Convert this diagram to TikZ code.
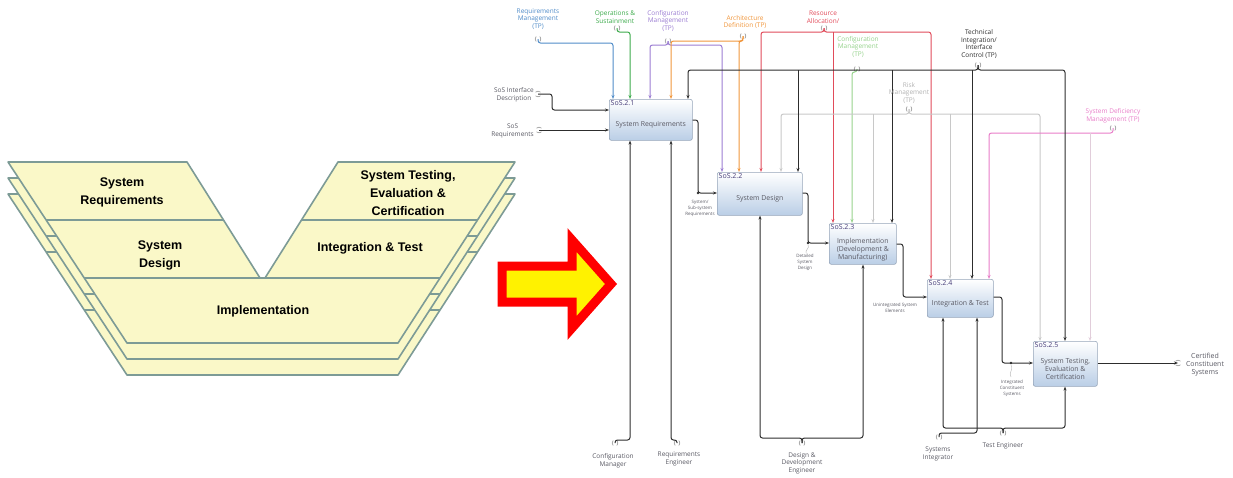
\documentclass[tikz,border=0pt]{standalone}
\usepackage{fontspec}
\setmainfont{Liberation Sans}
\newfontfamily\idef{Open Sans}
\usetikzlibrary{arrows.meta}
\definecolor{vfill}{RGB}{250,248,200}
\definecolor{vedge}{RGB}{125,155,150}
\definecolor{boxblue}{RGB}{186,206,230}
\definecolor{boxedge}{RGB}{150,165,185}
\definecolor{idblue}{RGB}{70,60,120}
\definecolor{txtgray}{RGB}{90,90,100}
\definecolor{lnk}{RGB}{45,45,45}
\definecolor{cblue}{RGB}{80,140,200}
\definecolor{cgreen}{RGB}{60,170,75}
\definecolor{cpurple}{RGB}{155,125,210}
\definecolor{corange}{RGB}{240,150,60}
\definecolor{cred}{RGB}{225,75,90}
\definecolor{clgreen}{RGB}{150,210,140}
\definecolor{cgray}{RGB}{200,200,200}
\definecolor{cpink}{RGB}{232,125,200}
\definecolor{cpale}{RGB}{225,205,218}
\begin{document}
\begin{tikzpicture}[x=1pt,y=-1pt,>={Stealth[length=4pt,width=3pt]},
  layer/.style={fill=vfill,draw=vedge,line width=1.6pt,line join=round},
  vtext/.style={font=\fontsize{12.5}{18}\selectfont\bfseries,align=center},
  sosbox/.style={draw=boxedge,line width=0.6pt,rounded corners=2pt,top color=white,bottom color=boxblue,anchor=north west},
  boxid/.style={font=\idef\fontsize{7}{7}\selectfont,text=idblue,anchor=north west,inner sep=1.5pt},
  boxtxt/.style={font=\idef\fontsize{6.9}{8}\selectfont,text=txtgray,align=center},
  lbl/.style={font=\idef\fontsize{6.5}{7.6}\selectfont,text=txtgray,align=center,inner sep=0pt},
  tinylbl/.style={font=\idef\fontsize{4.5}{6}\selectfont,text=txtgray,align=center,inner sep=0pt},
  link/.style={->,line width=1pt,rounded corners=2.5pt,draw=lnk},
  tunnel/.pic={\draw[gray,line width=0.5pt] (-1.8,-2.5) .. controls (-3.3,-1) and (-3.3,1) .. (-1.8,2.5) (1.8,-2.5) .. controls (3.3,-1) and (3.3,1) .. (1.8,2.5);}
]
\useasboundingbox (0,0) rectangle (1233,477);

\foreach \o in {32,16,0}{
  \draw[layer] (8,162+\o) -- (187,162+\o) -- (260,278+\o) -- (265,278+\o) -- (338,162+\o) -- (515,162+\o) -- (398,343+\o) -- (127,343+\o) -- cycle;
  \draw[vedge,line width=1.6pt] (46,220+\o) -- (224,220+\o) (301,220+\o) -- (478,220+\o) (84,278+\o) -- (440,278+\o);
}
\node[vtext] (vsr) at (122,192) {System\\Requirements};
\node[vtext] (vsd) at (160,255) {System\\Design};
\node[vtext] (vim) at (263,311) {Implementation};
\node[vtext] (vst) at (408,193) {System Testing,\\Evaluation \&\\Certification};
\node[vtext] (vit) at (370,248) {Integration \& Test};

\draw[line width=9pt,red,fill=yellow,line join=miter] (502,266) -- (572,266) -- (572,240) -- (611,284) -- (572,328) -- (572,302) -- (502,302) -- cycle;

\node[sosbox,minimum width=83pt,minimum height=41pt] (b1) at (609,99) {};
\node[sosbox,minimum width=85pt,minimum height=43pt] (b2) at (717,172) {};
\node[sosbox,minimum width=67pt,minimum height=41pt] (b3) at (829,223) {};
\node[sosbox,minimum width=66pt,minimum height=38pt] (b4) at (927,279) {};
\node[sosbox,minimum width=64pt,minimum height=45pt] (b5) at (1033,341) {};
\node[boxid] at (b1.north west) {SoS.2.1};
\node[boxid] at (b2.north west) {SoS.2.2};
\node[boxid] at (b3.north west) {SoS.2.3};
\node[boxid] at (b4.north west) {SoS.2.4};
\node[boxid] at (b5.north west) {SoS.2.5};
\node[boxtxt] at ([yshift=-5pt]b1.center) {System Requirements};
\node[boxtxt] at ([yshift=-4.5pt]b2.center) {System Design};
\node[boxtxt] at ([yshift=-5.5pt]b3.center) {Implementation\\(Development \&\\Manufacturing)};
\node[boxtxt] at ([yshift=-5pt]b4.center) {Integration \& Test};
\node[boxtxt] at ([yshift=-5pt]b5.center) {System Testing,\\Evaluation \&\\Certification};

\coordinate (sidT) at (538,94);
\coordinate (sosrT) at (539,130);
\coordinate (rmT) at (538,39);
\coordinate (osT) at (617,28);
\coordinate (cmT) at (668,41);
\coordinate (adT) at (743,36);
\coordinate (raT) at (824,28);
\coordinate (cm2T) at (857,69);
\coordinate (tiT) at (978,65);
\coordinate (rkT) at (909,109);
\coordinate (sdT) at (1113,128);
\coordinate (cmgT) at (615,443);
\coordinate (reT) at (677,443);
\coordinate (ddT) at (802,443);
\coordinate (siT) at (939,437);
\coordinate (teT) at (1003,433);
\coordinate (outT) at (1178,363);
\foreach \t in {rmT,osT,cmT,adT,raT,cm2T,tiT,rkT,sdT,cmgT,reT,ddT,siT,teT}
  \pic at (\t) {tunnel};
\foreach \t in {sidT,sosrT,outT}
  \pic[rotate=90] at (\t) {tunnel};

\draw[link] (sidT) -- (552,94) |- (b1.west |- 0,110);
\draw[link] (sosrT) -- (b1.west |- 0,130);

\draw[link,cblue] (rmT) |- (613,43) -- (613,0 |- b1.north);
\draw[link,cgreen] (osT) |- (630,32) -- (630,0 |- b1.north);
\draw[link,cpurple] (cmT) |- (650,45) -- (650,0 |- b1.north);
\draw[link,cpurple] (cmT) |- (722,45) -- (722,0 |- b2.north);
\draw[link,corange] (adT) |- (671,41) -- (671,0 |- b1.north);
\draw[link,corange] (adT) |- (739,41) -- (739,0 |- b2.north);
\draw[link,cred] (raT) |- (761,32) -- (761,0 |- b2.north);
\draw[link,cred] (raT) |- (931,32) -- (931,0 |- b4.north);
\draw[link,cred] (833,32) -- (833,0 |- b3.north);
\draw[link,clgreen] (cm2T) |- (852,72) -- (852,0 |- b3.north);
\draw[link,cgray] (rkT) |- (781,114) -- (781,0 |- b2.north);
\draw[link,cgray] (rkT) |- (1040,114) -- (1040,0 |- b5.north);
\draw[link,cgray] (873,114) -- (873,0 |- b3.north);
\draw[link,cgray] (950,114) -- (950,0 |- b4.north);
\draw[link,cpink] (sdT) |- (989,133) -- (989,0 |- b4.north);
\draw[link,cpale] (1090,133) -- (1090,0 |- b5.north);
\draw[link] (tiT) |- (688,70) -- (688,0 |- b1.north);
\draw[link] (tiT) |- (1065,70) -- (1065,0 |- b5.north);
\foreach \x/\b in {798/b2,892/b3,972/b4}
  \draw[link] (\x,70) -- (\x,0 |- \b.north);

\draw[link] (cmgT) |- (630,440) -- (630,0 |- b1.south);
\draw[link] (reT) |- (671,440) -- (671,0 |- b1.south);
\draw[link] (ddT) |- (760,438) -- (760,0 |- b2.south);
\draw[link] (ddT) |- (863,438) -- (863,0 |- b3.south);
\draw[link] (siT) |- (977,433) -- (977,0 |- b4.south);
\draw[link] (teT) |- (943,428) -- (943,0 |- b4.south);
\draw[link] (teT) |- (1065,428) -- (1065,0 |- b5.south);

\draw[link] (b1.east |- 0,120) -| (698,193) -- (b2.west |- 0,193);
\draw[link] (b2.east |- 0,193) -| (808,243) -- (b3.west |- 0,243);
\draw[link] (b3.east |- 0,244) -| (903,297) -- (b4.west |- 0,297);
\draw[link] (b4.east |- 0,297) -| (1002,363) -- (b5.west |- 0,363);
\draw[link] (b5.east |- 0,363) -- (outT);
\fill[lnk] (698,193) circle (1.3pt) (808,243) circle (1.3pt) (1011,363) circle (1.3pt);
\draw[gray!60,line width=0.4pt] (1011,365) .. controls (1014,369) and (1008,373) .. (1011,377);
\draw[gray!60,line width=0.4pt] (808,245) .. controls (810,248) and (805,250) .. (806,253);

\node[lbl,anchor=east] (sidL) at (534,95) {SoS Interface\\Description};
\node[lbl,anchor=east] (sosrL) at (534,131) {SoS\\Requirements};
\node[lbl,text=cblue] at (538,19) {Requirements\\Management\\(TP)};
\node[lbl,text=cgreen] at (615,17) {Operations \&\\Sustainment};
\node[lbl,text=cpurple] at (668,21) {Configuration\\Management\\(TP)};
\node[lbl,text=corange] at (745,22) {Architecture\\Definition (TP)};
\node[lbl,text=cred] at (823,17) {Resource\\Allocation/};
\node[lbl,text=clgreen] at (858,47) {Configuration\\Management\\(TP)};
\node[lbl,text=lnk] at (979,44) {Technical\\Integration/\\Interface\\Control (TP)};
\node[lbl,text=black!30] at (909,93) {Risk\\Management\\(TP)};
\node[lbl,text=cpink] at (1113,116) {System Deficiency\\Management (TP)};
\node[lbl] at (613,461) {Configuration\\Manager};
\node[lbl] at (679,459) {Requirements\\Engineer};
\node[lbl] at (802,463) {Design \&\\Development\\Engineer};
\node[lbl] at (938,454) {Systems\\Integrator};
\node[lbl] at (1003,446) {Test Engineer};
\node[lbl,font=\idef\fontsize{7}{8}\selectfont] at (1205,365) {Certified\\Constituent\\Systems};
\node[tinylbl] at (700,208) {System/\\Sub-system\\Requirements};
\node[tinylbl] at (805,262) {Detailed\\System\\Design};
\node[tinylbl] at (895,308) {Unintegrated System\\Elements};
\node[tinylbl] at (1012,388) {Integrated\\Constituent\\Systems};
\end{tikzpicture}
\end{document}
